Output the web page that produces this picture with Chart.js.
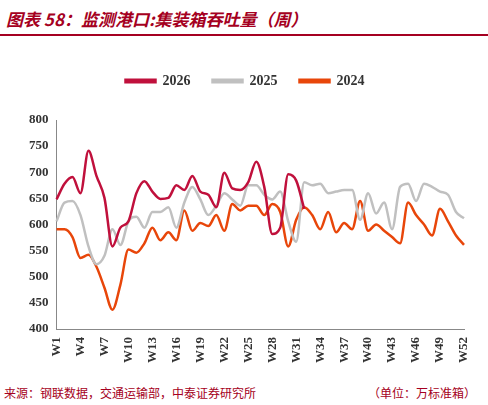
<!DOCTYPE html>
<html><head><meta charset="utf-8">
<script src="https://cdn.jsdelivr.net/npm/chart.js@4"></script>
<style>
body{margin:0;width:488px;height:405px;background:#fff;position:relative;overflow:hidden;font-family:"Noto Sans CJK SC";}
#title{position:absolute;left:6px;top:6px;font-size:17px;font-weight:bold;font-style:italic;color:#A50021;}
#line{position:absolute;left:0;top:34px;width:488px;height:2px;background:#A50021;}
#foot{position:absolute;left:4px;top:384px;font-size:12px;color:#A50021;width:480px;}
#foot span{float:right;margin-right:8px;}
#wrap{position:absolute;left:0;top:52px;width:488px;height:314px;}
</style></head><body>
<div id="title">图表 58：监测港口:集装箱吞吐量（周）</div>
<div id="line"></div>
<div id="wrap"><canvas id="c"></canvas></div>
<div id="foot">来源：钢联数据，交通运输部，中泰证券研究所<span>（单位：万标准箱）</span></div>
<script>
const weeks = Array.from({length:52},(_, i)=>'W'+(i+1));
const s2026 = [648,678,691,660,741,693,651,558,594,606,660,683,663,649,651,675,666,693,663,657,633,699,669,666,681,720,672,582,594,696,684,630];
const s2025 = [606,642,645,618,558,524,540,591,561,606,615,594,624,624,633,594,642,672,648,618,636,660,648,636,675,675,657,648,663,606,567,681,675,678,660,663,666,666,609,660,621,642,591,672,678,645,678,672,663,657,624,612];
const s2024 = [591,591,576,536,542,519,479,437,485,552,546,564,594,570,585,570,627,588,603,597,618,588,639,627,636,636,618,639,624,558,609,633,618,591,624,585,603,591,645,588,600,588,576,564,642,618,600,579,630,606,579,561];
const yTicks = [400,450,500,550,600,650,700,750,800];
const mk=(l,d,c)=>({label:l,data:d,borderColor:c,backgroundColor:c,borderWidth:2.5,pointRadius:0,tension:0.4,cubicInterpolationMode:'monotone'});
const legendGap={id:'lg',beforeInit(ch){const f=ch.legend.fit;ch.legend.fit=function(){f.bind(ch.legend)();this.height+=22;};}};
new Chart(document.getElementById('c'),{type:'line',plugins:[legendGap],
data:{labels:weeks,datasets:[mk('2026',s2026,'#C0103C'),mk('2025',s2025,'#C0C0C0'),mk('2024',s2024,'#E8460A')]},
options:{responsive:true,maintainAspectRatio:false,animation:false,
layout:{padding:{left:26,right:24,top:0,bottom:0}},
plugins:{legend:{labels:{boxWidth:30,boxHeight:2.5,padding:22,color:'#333',font:{family:'Liberation Serif',size:14,weight:'bold'}}},tooltip:{enabled:false}},
scales:{
x:{grid:{display:false,drawTicks:true,tickLength:5,color:'#888'},border:{color:'#888'},
 ticks:{autoSkip:false,maxRotation:90,minRotation:90,color:'#333',font:{family:'Liberation Serif',size:13,weight:'bold'},
 callback:(v,i)=> i%3===0?weeks[i]:''}},
y:{min:400,max:800,afterBuildTicks:a=>{a.ticks=yTicks.map(v=>({value:v}));},
 grid:{display:false,drawTicks:true,tickLength:5},border:{color:'#888'},
 ticks:{color:'#333',font:{family:'Liberation Serif',size:13,weight:'bold'}}}
}}});
</script></body></html>
